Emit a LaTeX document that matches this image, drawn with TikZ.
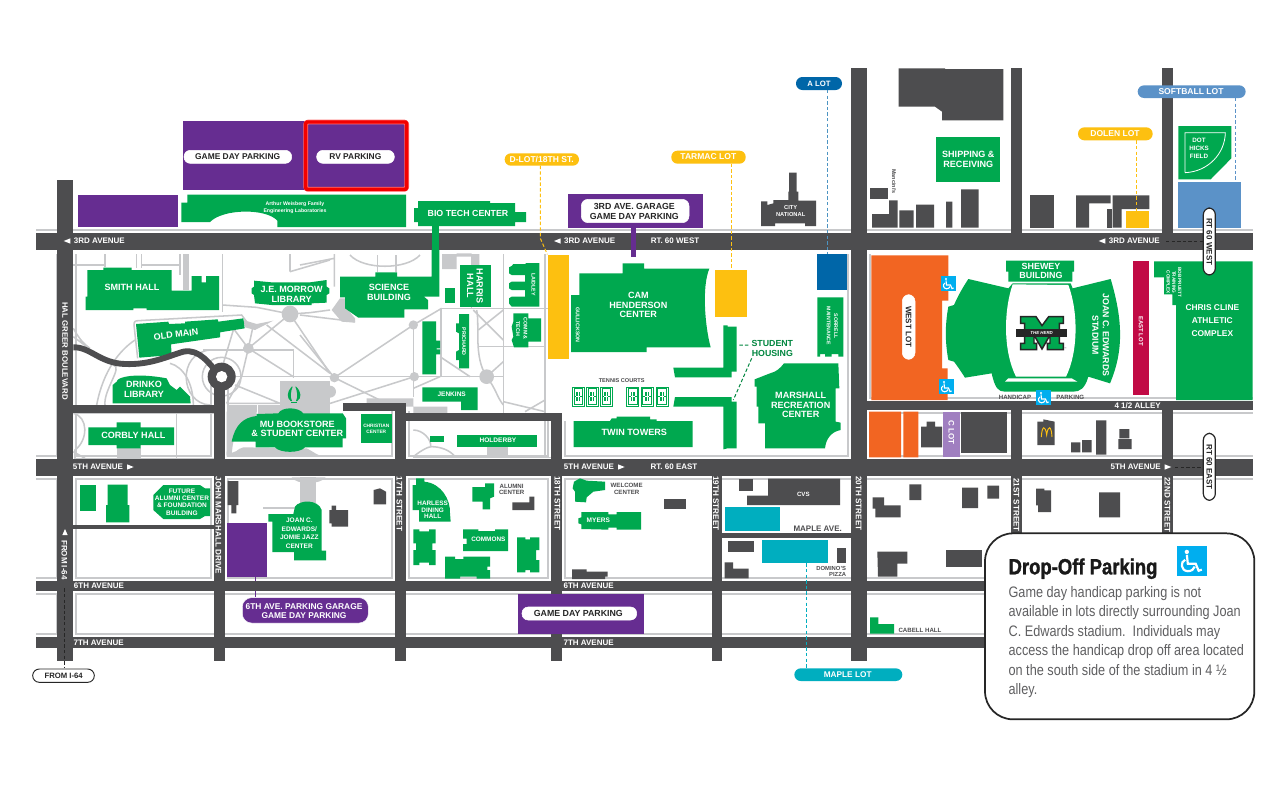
\documentclass[tikz,border=0pt]{standalone}
\usepackage{fontspec}
\setmainfont{Liberation Sans}
\newfontfamily\cond[FakeStretch=.835]{Liberation Sans}
\newfontfamily\ttl[FakeStretch=.84,BoldFeatures={FakeBold=1.3}]{Liberation Sans}
\definecolor{grn}{HTML}{00A84F}
\definecolor{drk}{HTML}{4D4D4F}
\definecolor{lgr}{HTML}{C8C9CB}
\definecolor{pur}{HTML}{662D91}
\definecolor{yel}{HTML}{FDC010}
\definecolor{org}{HTML}{F26522}
\definecolor{crm}{HTML}{C10A45}
\definecolor{lil}{HTML}{A07FC0}
\definecolor{tea}{HTML}{00AEBF}
\definecolor{blu}{HTML}{0066A8}
\definecolor{sof}{HTML}{5B92C8}
\definecolor{wch}{HTML}{00AEEF}
\tikzset{
 zm/.style 2 args={shift={(#1,#2)},x=.25pt,y=-.25pt},
 zA/.style={zm={30}{100}}, zB/.style={zm={430}{140}}, zC/.style={zm={850}{60}},
 zD/.style={zm={30}{340}}, zE/.style={zm={550}{460}}, zF/.style={zm={70}{250}},
 zG/.style={zm={300}{250}}, zH/.style={zm={940}{255}}, zI/.style={zm={975}{525}},
 zJ/.style={zm={860}{472}},
 gb/.style={fill=grn}, db/.style={fill=drk},
 pth/.style={draw=lgr,line width=1.15pt},
 pla/.style={fill=lgr},
 dsh/.style={dash pattern=on 2.6pt off 1.6pt,line width=.75pt},
 wt/.style={text=white}, dk/.style={text=drk}, bk/.style={text=black!85},
 rt/.style={rotate=-90},
 txt/.style={inner sep=0pt,align=center},
}
\newcommand\tx[5][wt]{\node[txt,#1,font=\bfseries\fontsize{#3}{#4}\selectfont] at (#2) {#5};}
\newcommand\wheelc[3]{\begin{scope}[shift={(#1,#2)},x=#3*0.05pt,y=-#3*0.05pt]
 \fill[wch] (0,0) rectangle (15,15);
 \fill[white] (5,3) circle (1.1);
 \draw[white,line width=#3*.055pt] (5,4.5) -- (5.5,9) -- (9.5,9) -- (11,12.6) -- (12.6,12);
 \draw[white,line width=#3*.055pt] (4.1,7) .. controls (1.6,8) and (1.8,12.6) .. (5.5,12.8) .. controls (7.4,12.8) and (8.6,11.8) .. (9,10.5);
\end{scope}}
\begin{document}
\begin{tikzpicture}[x=.75pt,y=-.75pt]
\useasboundingbox (0,0) rectangle (1286,793);
\fill[white] (0,0) rectangle (1286,793);
% road verge bands: horizontal top+bottom, horizontal top only, vertical
\foreach \a/\b/\c/\d in {36/233/1253/250,36/459/1253/476,36/581/985/591,867/401/1253/410}{
 \fill[lgr] (\a,{\b-4}) rectangle (\c,{\d+4});}
\fill[lgr] (36,633) rectangle (985,637);
\foreach \a/\b/\c/\d in {214/380/225/581,395/411/406/581,551/421/562/581,851/254/867/459}{
 \fill[lgr] ({\a-4},\b) rectangle ({\c+4},\d);}
\fill[lgr] (56,254) rectangle (77,636);
\foreach \a/\b/\c/\d in {36/233/1253/250,36/459/1253/476,36/581/985/591,867/401/1253/410}{
 \fill[white] (\a,{\b-1.9}) rectangle (\c,{\d+1.9});}
\fill[white] (36,635) rectangle (985,637);
\foreach \a/\b/\c/\d in {214/380/225/581,395/411/406/581,551/421/562/581,851/254/867/459}{
 \fill[white] ({\a-1.9},\b) rectangle ({\c+1.9},\d);}
\fill[white] (57,254) rectangle (75,636);
% re-open crossings the vertical bands closed
\foreach \b/\d in {250/254,476/478,591/593}{\fill[white] (36,\b) rectangle (1253,\d);}
% campus paths
\begin{scope}[zF]
\fill[pla] (339,12) rectangle (357,120);
\fill[pla] (630,392) rectangle (780,480);
\fill[pla] (565,465) rectangle (780,492);
\fill[pla] (140,595) rectangle (212,625);
\fill[pla] (520,210) -- (560,222) -- (610,212) -- (555,240) -- (525,232) -- cycle;
\fill[pla] (660,192) circle (25);
\fill[pla] (535,295) circle (16);
\draw[pth] (10,45) -- (105,45) (105,12) -- (105,50) (200,12) -- (200,55) (215,12) -- (215,55) (215,45) -- (330,45) (330,12) -- (330,75) (458,12) -- (458,185);
\draw[pth] (660,12) -- (660,65) (660,65) -- (780,30);
\draw[pth] (458,165) -- (560,172) -- (660,192) -- (720,188) -- (780,180);
\draw[pth] (535,295) -- (660,192) (550,225) -- (535,295) -- (515,380) -- (470,460);
\draw[pth] (490,235) -- (535,295) -- (670,380);
\draw[pth] (660,192) -- (780,370) (590,225) -- (780,370);
\draw[pth] (490,240) -- (460,340);
\draw[pth] (400,300) -- (670,300) -- (670,385);
\draw[pth] (490,380) -- (780,380);
\draw[pth] (470,460) -- (630,460) (495,405) -- (630,460);
\draw[pth] (203,325) -- (192,225) .. controls (192,215) and (195,212) .. (205,212) -- (515,195) -- (530,215);
\draw[pth] (195,270) .. controls (150,300) and (100,360) .. (80,465);
\draw[pth] (130,345) .. controls (160,350) and (100,420) .. (105,465);
\draw[pth] (10,260) -- (50,290) (10,235) .. controls (30,270) and (40,280) .. (60,295);
\draw[pth] (300,340) .. controls (340,350) and (370,400) .. (370,465);
\draw[pth] (10,490) .. controls (55,500) and (55,570) .. (15,600) -- (15,625) (10,605) -- (45,625);
\draw[pth] (320,490) -- (320,625);
\draw[pth] (455,380) circle (58);
\draw[pth] (420,300) .. controls (320,310) and (330,460) .. (420,465);
\draw[pth] (12,625) -- (440,625) (12,490) -- (440,490);
\end{scope}
\begin{scope}[zG]
\fill[pla] (95,180) -- (120,145) -- (140,145) -- (140,175) -- (165,205) -- (165,218) -- (125,215) -- cycle;
\fill[pla] (103,383) circle (14) (343,380) circle (14) (560,380) circle (22) (340,225) circle (14) (90,425) circle (18);
\fill[pla] (200,445) rectangle (340,470) (340,470) rectangle (442,492);
\fill[pla] (426,12) rectangle (470,57) (515,12) rectangle (538,45) (470,20) rectangle (515,10);
\fill[pla] (560,590) rectangle (625,620);
\draw[pth] (0,195) -- (165,215);
\draw[pth] (0,255) -- (103,383);
\draw[pth] (103,383) -- (340,225) -- (425,175);
\draw[pth] (340,225) -- (340,440);
\draw[pth] (423,175) -- (423,380);
\draw[pth] (420,175) -- (745,175);
\draw[pth] (515,175) -- (515,12);
\draw[pth] (610,12) -- (610,490);
\draw[pth] (610,290) -- (735,290) (535,290) -- (610,290);
\draw[pth] (535,240) -- (610,180) (520,180) -- (610,270);
\draw[pth] (530,180) .. controls (540,230) and (520,320) .. (560,380) .. controls (590,420) and (590,440) .. (610,465) (610,455) -- (735,485);
\draw[pth] (420,320) -- (510,380) (560,380) -- (610,335) (675,485) -- (735,450);
\draw[pth] (0,380) -- (610,380);
\draw[pth] (103,383) -- (300,480);
\draw[pth] (75,465) -- (343,380) (340,415) -- (420,380);
\draw[pth] (150,15) .. controls (190,60) and (320,60) .. (360,15);
\draw[pth] (232,15) -- (232,65) (288,15) -- (288,65);
\draw[pth] (103,12) -- (103,110) (0,45) -- (103,25);
\draw[pth] (340,540) .. controls (370,540) and (395,570) .. (392,590) (340,620) .. controls (365,600) and (385,590) .. (395,590) .. controls (420,590) and (450,600) .. (465,620);
\draw[pth] (340,512) -- (760,512) (340,622) -- (760,622);
\draw[pth] (300,480) -- (300,625);
\draw[pth] (735,12) -- (735,625);
\end{scope}
\begin{scope}[zD]
\fill[pla] (590,195) rectangle (680,215);
\fill[pla] (590,215) -- (680,215) -- (680,232) .. controls (625,240) and (610,280) .. (605,345) -- (590,345) -- cycle;
\fill[pla] (590,350) -- (880,350) .. controls (860,345) and (850,335) .. (830,325) -- (640,322) .. controls (620,325) and (620,345) .. (590,335) -- cycle;
\fill[pla] (810,412) rectangle (858,490);
\fill[pla] (785,412) .. controls (800,435) and (870,435) .. (887,412) -- cycle;
\draw[pth] (700,504) -- (822,504);
\end{scope}
% lots
\begin{scope}[zA]
\fill[pur] (458,62) rectangle (1130,270);
\fill[pur] (145,284) rectangle (443,381);
\fill[gb] (454,308) -- (472,308) -- (472,284) -- (1128,284) -- (1128,381) -- (742,381) -- (742,362) .. controls (710,325) and (580,325) .. (540,366) -- (454,366) -- cycle;
\filldraw[draw=white,fill=white,rounded corners=4.7pt] (462,151) rectangle (785,190);
\filldraw[draw=white,fill=white,rounded corners=4.7pt] (860,151) rectangle (1093,190);
\draw[red!55,line width=3.6pt,rounded corners=2pt] (827,66) rectangle (1130,268);
\draw[red!95!black,line width=2.6pt,rounded corners=1pt] (827,66) rectangle (1130,268);
\tx[bk]{623,170}{6.3}{8}{GAME DAY PARKING}
\tx[bk]{976,170}{6.3}{8}{RV PARKING}
\tx{795,323}{3.9}{5}{Arthur Weisberg Family\\Engineering Laboratories}
\end{scope}
% buildings west
\begin{scope}[zF]
\fill[gb] (52,60) -- (100,60) -- (100,53) -- (185,53) -- (185,60) -- (305,60) -- (305,122) -- (365,122) -- (365,78) -- (395,78) -- (395,97) -- (408,97) -- (408,78) -- (447,78) -- (447,180) -- (230,180) -- (230,175) -- (190,175) -- (190,180) -- (47,180) -- (47,140) -- (52,140) -- cycle;
\tx{186,113}{6.8}{8}{SMITH HALL}
\fill[gb] (198,222) -- (295,215) -- (297,222) -- (345,220) -- (345,215) -- (443,208) -- (445,215) -- (520,205) -- (524,235) -- (450,247) -- (450,262) -- (303,283) -- (305,315) -- (208,323) -- cycle;
\node[txt,wt,rotate=7,font=\bfseries\fontsize{6.8}{8}\selectfont] at (318,254) {OLD MAIN};
\fill[gb] (128,460) -- (128,405) -- (140,395) .. controls (140,380) and (200,368) .. (290,385) -- (300,405) -- (320,420) -- (330,410) -- (360,440) -- (362,460) -- cycle;
\tx{222,418}{6.8}{7.1}{DRINKO\\LIBRARY}
\fill[gb] (55,532) -- (140,532) -- (140,517) -- (212,517) -- (212,532) -- (312,532) -- (312,585) -- (212,585) -- (212,595) -- (140,595) -- (140,585) -- (55,585) -- cycle;
\tx{190,556}{6.8}{8}{CORBLY HALL}
\fill[gb] (552,92) -- (605,97) -- (720,97) -- (770,90) -- (770,110) -- (778,115) -- (778,130) -- (770,135) -- (770,158) -- (725,160) -- (725,165) -- (605,165) -- (555,160) -- (552,135) -- (545,130) -- (545,115) -- (552,110) -- cycle;
\tx{665,133}{6.8}{7.2}{J.E. MORROW\\LIBRARY}
\end{scope}
\begin{scope}[zD]
\fill[gb] (605,305) .. controls (615,255) and (640,232) .. (680,228) -- (680,222) -- (745,220) .. controls (755,200) and (805,200) .. (820,220) -- (938,220) -- (948,235) -- (948,295) -- (938,295) -- (938,322) -- (825,322) .. controls (810,340) and (750,340) .. (735,322) -- (677,322) -- (677,305) -- cycle;
\tx{802,267}{6.8}{7.2}{MU BOOKSTORE\\\& STUDENT CENTER}
\fill[gb] (785,140) .. controls (770,155) and (770,175) .. (782,183) -- (786,183) .. controls (780,170) and (782,155) .. (788,140) -- cycle;
\fill[gb] (798,140) .. controls (815,155) and (815,175) .. (802,183) -- (798,183) .. controls (804,170) and (802,155) .. (796,140) -- cycle;
\fill[gb] (782,185) rectangle (802,189);
\fill[gb] (149,434) rectangle (197,514);
\fill[gb] (233,434) -- (293,434) -- (293,495) -- (298,495) -- (298,547) -- (228,547) -- (228,495) -- (233,495) -- cycle;
\fill[gb] (400,435) -- (510,435) -- (525,445) -- (540,445) -- (540,528) -- (525,528) -- (510,537) -- (400,537) -- (370,510) -- (370,465) -- cycle;
\tx{456,486}{4.9}{5.4}{FUTURE\\ALUMNI CENTER\\\& FOUNDATION\\BUILDING}
\fill[pur] (591,548) rectangle (711,712);
\draw[pur,line width=.5pt] (676,712) -- (676,770);
\fill[gb] (715,522) -- (790,522) -- (795,500) .. controls (810,478) and (865,478) .. (875,510) -- (875,632) -- (888,632) -- (888,661) -- (792,661) -- (792,636) -- (727,636) -- (727,545) -- (715,545) -- cycle;
\tx{808,580}{4.9}{6.3}{JOAN C.\\EDWARDS/\\JOMIE JAZZ\\CENTER}
\fill[db] (593,423) -- (625,423) -- (625,495) -- (619,495) -- (619,520) -- (604,520) -- (604,495) -- (593,495) -- cycle;
\fill[db] (898,510) -- (905,510) -- (905,497) -- (918,497) -- (918,510) -- (954,510) -- (954,560) -- (905,560) -- (905,550) -- (898,550) -- cycle;
\fill[db] (1031,450) -- (1050,445) -- (1068,455) -- (1068,493) -- (1031,493) -- cycle;
\fill[gb] (1158,415) -- (1183,415) -- (1183,425) .. controls (1235,430) and (1262,480) .. (1260,520) -- (1262,545) -- (1167,545) -- (1167,510) -- (1148,510) -- (1148,435) -- (1158,435) -- cycle;
\tx{1208,510}{4.8}{4.9}{HARLESS\\DINING\\HALL}
\fill[gb] (1327,441) -- (1365,441) -- (1365,430) -- (1392,430) -- (1392,470) -- (1380,475) -- (1380,508) -- (1358,508) -- (1358,485) -- (1327,485) -- cycle;
\tx[dk]{1445,448}{4.6}{5}{ALUMNI\\CENTER}
\fill[db] (1447,487) -- (1498,487) -- (1498,470) -- (1513,470) -- (1513,510) -- (1447,510) -- cycle;
\fill[gb] (1150,568) -- (1168,568) -- (1168,574) -- (1197,574) -- (1197,568) -- (1217,568) -- (1217,610) -- (1207,610) -- (1207,630) -- (1217,630) -- (1217,675) -- (1197,675) -- (1197,668) -- (1168,668) -- (1168,675) -- (1150,675) -- (1150,630) -- (1158,630) -- (1158,610) -- (1150,610) -- cycle;
\fill[gb] (1245,650) -- (1275,650) -- (1275,657) -- (1300,657) -- (1300,650) -- (1380,650) -- (1380,680) -- (1372,680) -- (1372,690) -- (1380,690) -- (1380,716) -- (1340,716) -- (1340,710) -- (1290,710) -- (1290,716) -- (1245,716) -- cycle;
\fill[gb] (1299,568) -- (1345,568) -- (1345,573) -- (1395,573) -- (1395,568) -- (1434,568) -- (1434,633) -- (1299,633) -- (1299,612) -- (1310,612) -- (1310,596) -- (1299,596) -- cycle;
\tx{1375,597}{4.8}{6}{COMMONS}
\fill[gb] (1461,592) -- (1486,592) -- (1486,598) -- (1500,598) -- (1500,592) -- (1528,592) -- (1528,630) -- (1518,630) -- (1518,660) -- (1528,660) -- (1528,697) -- (1500,697) -- (1500,690) -- (1486,690) -- (1486,697) -- (1461,697) -- cycle;
\end{scope}
\begin{scope}[zG]
\fill[gb] (120,80) -- (226,80) -- (226,67) -- (291,67) -- (291,80) -- (395,80) -- (395,0) -- (418,0) -- (418,140) -- (372,140) -- (384,150) -- (384,178) -- (313,178) -- (313,203) -- (175,203) -- (135,175) -- (135,142) -- (120,142) -- cycle;
\tx{267,128}{6.8}{7.2}{SCIENCE\\BUILDING}
\fill[gb] (436,115) rectangle (466,158);
\fill[gb] (481,46) rectangle (573,172);
\tx[wt,rt]{525,108}{6.8}{7}{HARRIS\\HALL}
\fill[gb] (367,214) -- (408,214) -- (408,272) -- (420,272) -- (420,295) -- (410,295) -- (410,298) -- (420,298) -- (420,313) -- (408,313) -- (408,373) -- (367,373) -- cycle;
\fill[gb] (367,412) -- (533,412) -- (533,480) -- (483,480) -- (483,455) -- (367,455) -- cycle;
\tx{455,432}{4.9}{6}{JENKINS}
\fill[gb] (182,492) rectangle (275,580);
\tx{229,537}{3.6}{5}{CHRISTIAN\\CENTER}
\fill[gb] (471,555) rectangle (711,590);
\tx{594,571}{4.9}{6}{HOLDERBY}
\fill[gb] (390,558) rectangle (433,576);
\end{scope}
\begin{scope}[zB]
\fill[gb] (250,372) -- (287,372) -- (287,369) -- (328,369) -- (328,500) -- (245,500) -- (237,490) -- (237,475) -- (245,470) -- (285,470) -- (285,450) -- (245,450) -- (237,445) -- (237,430) -- (245,425) -- (285,425) -- (285,405) -- (245,405) -- (237,400) -- (237,382) -- (245,378) -- cycle;
\tx[wt,rt]{310,434}{4}{5}{LAIDLEY}
\fill[gb] (250,520) -- (295,520) -- (295,535) -- (333,535) -- (333,605) -- (295,605) -- (295,622) -- (252,622) -- (245,600) -- (250,590) -- (245,560) -- (250,545) -- cycle;
\tx[wt,rt]{275,566}{4}{5.5}{COMM \&\\TECH}
\fill[gb] (87,522) -- (117,522) -- (117,685) -- (87,685) -- (87,660) -- (78,660) -- (78,635) -- (87,630) -- (87,580) -- (78,575) -- (78,550) -- (87,550) -- cycle;
\tx[wt,rt]{102,605}{4}{5}{PRICHARD}
\fill[gb] (448,400) -- (578,400) -- (578,370) -- (642,370) -- (642,386) -- (838,386) .. controls (815,440) and (825,560) .. (842,622) -- (650,622) -- (650,636) -- (423,636) -- (423,465) -- (448,465) -- cycle;
\tx{625,495}{6.8}{7.2}{CAM\\HENDERSON\\CENTER}
\tx[wt,rt]{443,555}{4}{5}{GULLICKSON}
\fill[yel] (355,345) rectangle (417,657);
\fill[yel] (856,390) rectangle (950,531);
\fill[blu] (1162,343) rectangle (1250,451);
\fill[gb] (1162,472) -- (1240,472) -- (1240,650) -- (1225,650) -- (1225,642) -- (1205,642) -- (1205,650) -- (1185,650) -- (1185,642) -- (1170,642) -- (1170,650) -- (1162,650) -- cycle;
\tx[wt,rt]{1207,558}{3.9}{5.5}{SORRELL\\MAINTENANCE}
\fill[gb] (1062,670) -- (1225,670) -- (1228,745) -- (1217,745) -- (1217,845) -- (1232,848) -- (1232,870) .. controls (1205,875) and (1188,895) .. (1185,925) -- (1005,925) -- (1005,850) -- (985,850) -- (985,800) -- (980,800) -- (980,740) -- (974,740) -- (974,718) -- (1020,700) .. controls (1040,695) and (1050,685) .. (1062,670) -- cycle;
\tx{1112,795}{6.8}{7.2}{MARSHALL\\RECREATION\\CENTER}
\fill[gb] (880,556) -- (893,556) -- (893,560) -- (920,560) -- (920,695) -- (905,695) -- (905,712) -- (735,712) -- (730,683) -- (880,683) -- cycle;
\fill[gb] (735,771) -- (905,771) -- (905,785) -- (920,785) -- (920,925) -- (893,925) -- (880,928) -- (880,800) -- (730,800) -- cycle;
\tx[text=grn!80!black]{1027,625}{6.6}{7}{STUDENT\\HOUSING}
\draw[grn!80!black,dsh] (928,615) -- (955,615) (965,655) -- (910,780);
\tx[dk]{575,722}{4.2}{5}{TENNIS COURTS}
\foreach \q in {427,469,511,590,633,678}{
 \draw[grn,line width=.6pt] (\q,741) rectangle ({\q+36},798);
 \draw[grn,line width=.6pt] ({\q+5},746) rectangle ({\q+31},793);
 \fill[grn] ({\q+12},757) rectangle ({\q+24},782);
 \draw[grn,line width=.6pt] ({\q+5},769.5) -- ({\q+31},769.5);
 \draw[white,line width=.6pt] ({\q+18},757) -- ({\q+18},782) ({\q+12},769.5) -- ({\q+24},769.5);
}
\fill[gb] (431,843) -- (540,843) -- (545,835) -- (560,835) -- (560,830) -- (660,830) -- (660,838) -- (680,838) -- (680,843) -- (788,843) -- (788,921) -- (431,921) -- cycle;
\tx{613,877}{6.8}{8}{TWIN TOWERS}
\fill[db] (993,184) -- (1012,184) -- (1012,195) -- (1030,190) -- (1030,180) -- (1075,180) -- (1075,155) -- (1077,155) -- (1077,98) -- (1100,98) -- (1100,155) -- (1105,155) -- (1105,182) -- (1158,182) -- (1158,258) -- (1125,258) -- (1125,250) -- (1035,250) -- (1035,258) -- (993,258) -- cycle;
\tx{1082,213}{4.3}{5}{CITY\\NATIONAL}
\end{scope}
% lower buildings
\begin{scope}[zE]
\fill[gb] (75,125) -- (75,95) -- (68,85) -- (72,65) -- (90,55) -- (110,62) -- (165,65) -- (165,90) -- (130,95) -- (110,112) -- (108,127) -- cycle;
\tx[dk]{230,87}{4.6}{5}{WELCOME\\CENTER}
\fill[db] (343,118) rectangle (409,148);
\fill[gb] (94,156) -- (175,156) -- (175,163) -- (200,163) -- (200,156) -- (273,156) -- (273,209) -- (200,209) -- (200,203) -- (175,203) -- (175,209) -- (94,207) -- (94,193) -- (85,190) -- (85,175) -- (94,172) -- cycle;
\tx{145,182}{4.9}{6}{MYERS}
\fill[db] (66,328) -- (110,328) -- (110,335) -- (173,335) -- (173,350) -- (165,350) -- (165,357) -- (66,357) -- cycle;
\fill[db] (566,56) rectangle (610,94);
\fill[db] (654,56) -- (870,56) -- (870,135) -- (591,135) -- (591,107) -- (654,107) -- cycle;
\tx{760,103}{4.6}{6}{CVS}
\fill[tea] (524,140) rectangle (689,214);
\tx[dk]{803,205}{6}{7}{MAPLE AVE.}
\fill[db] (533,244) rectangle (612,275);
\fill[tea] (635,241) rectangle (834,310);
\fill[db] (860,264) rectangle (889,308);
\fill[db] (524,307) -- (549,307) -- (549,326) -- (596,326) -- (596,355) -- (524,355) -- cycle;
\node[txt,dk,align=right,anchor=east,font=\bfseries\fontsize{4.4}{4.5}\selectfont] at (889,335) {DOMINO'S\\PIZZA};
\end{scope}
\begin{scope}[zJ]
\fill[db] (148,37) rectangle (184,84) (306,47) rectangle (354,108) (382,41) rectangle (417,80) (717,61) rectangle (780,136);
\fill[db] (38,76) -- (72,76) -- (72,100) -- (122,100) -- (122,136) -- (46,136) -- (46,110) -- (38,110) -- cycle;
\fill[db] (528,50) -- (553,50) -- (553,55) -- (573,55) -- (573,120) -- (534,120) -- (534,100) -- (528,100) -- cycle;
\fill[db] (52,239) -- (142,239) -- (142,275) -- (112,275) -- (112,314) -- (54,314) -- cycle;
\fill[db] (258,233) rectangle (365,285);
\fill[gb] (30,436) -- (55,436) -- (55,456) -- (102,456) -- (102,485) -- (30,485) -- cycle;
\tx[dk]{180,475}{4.6}{6}{CABELL HALL}
\end{scope}
% roads
\foreach \a/\b/\c/\d in {36/233/1253/250,36/459/1253/476,36/581/985/591,36/637/985/648,867/401/1253/410,
 57/180/73/661,214/380/225/661,395/403/406/661,551/413/562/661,712/459/722/661,851/68/867/661,1011/68/1022/233,1162/68/1173/233,1011/410/1022/540,1162/410/1173/540,
 343/403/406/411,406/413/562/421,73/405/214/413,73/525/214/529,722/533/851/538}{
 \fill[drk] (\a,\b) rectangle (\c,\d);}
% north-east quarter and stadium
\begin{scope}[zC]
\fill[db] (146,25) -- (285,25) -- (285,27) -- (460,27) -- (460,181) -- (276,181) -- (276,155) -- (255,140) -- (146,140) -- cycle;
\fill[gb] (257,230) rectangle (449,365);
\tx{355,298}{6.8}{7.2}{SHIPPING \&\\RECEIVING}
\node[txt,dk,rt,font=\fontsize{4.1}{5}\selectfont] at (132,365) {\bfseries Mancini's};
\fill[db] (61,383) rectangle (115,416);
\fill[db] (66,462) -- (117,462) -- (117,421) -- (143,421) -- (143,503) -- (66,503) -- cycle;
\fill[db] (148,451) rectangle (191,503) (198,434) rectangle (252,503) (288,425) rectangle (307,503) (333,388) rectangle (386,503);
\fill[db] (541,406) rectangle (613,503);
\fill[db] (678,406) -- (782,406) -- (782,430) -- (717,430) -- (717,503) -- (678,503) -- cycle;
\fill[db] (770,447) rectangle (786,503);
\fill[db] (788,406) -- (898,406) -- (898,447) -- (815,447) -- (815,503) -- (788,503) -- cycle;
\fill[yel] (829,454) rectangle (898,503);
\fill[sof] (985,367) rectangle (1172,503);
\fill[gb] (985,198) -- (1144,198) -- (1144,295) -- (1082,358) -- (985,358) -- cycle;
\draw[white,line width=.6pt] (1005,338) -- (1005,218) -- (1126,218) .. controls (1125,280) and (1075,335) .. (1005,338);
\tx{1047,265}{4.7}{5.8}{DOT\\HICKS\\FIELD}
\fill[org] (64,586) -- (295,586) -- (295,722) -- (276,722) -- (276,925) -- (293,925) -- (293,1020) -- (64,1020) -- cycle;
\fill[crm] (848,604) rectangle (898,1004);
\tx[wt,rt]{873,813}{4.5}{5.2}{EAST LOT}
\fill[gb] (912,604) -- (1208,604) -- (1208,1020) -- (978,1020) -- (978,735) -- (967,735) -- (967,703) -- (942,703) -- (942,652) -- (912,652) -- cycle;
\tx[wt,rt]{972,667}{3.5}{4.3}{BOB PRUETT\\TRAINING\\COMPLEX}
\tx{1087,782}{6.3}{9.75}{CHRIS CLINE\\ATHLETIC\\COMPLEX}
\fill[org] (57,1055) rectangle (153,1192) (160,1055) rectangle (205,1192);
\fill[db] (213,1100) -- (230,1100) -- (230,1085) -- (255,1085) -- (255,1100) -- (276,1100) -- (276,1162) -- (213,1162) -- cycle;
\fill[lil] (279,1055) rectangle (329,1192);
\tx[wt,rt]{304,1118}{6}{7}{C LOT}
\fill[db] (334,1056) rectangle (471,1178);
\fill[db] (562,1085) -- (580,1085) -- (580,1078) -- (614,1085) -- (614,1155) -- (562,1155) -- cycle;
\draw[yel,line width=.7pt] (574,1131) .. controls (576,1095) and (586,1095) .. (590,1125) .. controls (594,1095) and (604,1095) .. (606,1131);
\fill[db] (663,1147) rectangle (691,1177) (696,1140) rectangle (725,1177) (738,1081) rectangle (769,1184) (808,1107) rectangle (838,1135) (805,1137) rectangle (845,1167);
\end{scope}
\begin{scope}[zH]
\fill[gb] (85,72) -- (205,100) -- (218,85) -- (392,85) -- (398,100) -- (512,72) .. controls (550,200) and (550,290) .. (510,385) -- (445,365) .. controls (435,400) and (420,410) .. (400,410) -- (195,410) .. controls (175,410) and (165,400) .. (155,355) -- (75,368) .. controls (60,345) and (50,330) .. (42,320) -- (25,315) .. controls (15,260) and (15,210) .. (25,155) -- (42,150) .. controls (55,120) and (70,95) .. (85,72) -- cycle;
\fill[white] (218,88) -- (385,90) .. controls (415,170) and (415,290) .. (378,365) -- (228,365) .. controls (190,290) and (190,170) .. (218,88) -- cycle;
\fill[white] (195,380) -- (205,370) -- (395,370) -- (412,380) -- cycle;
\fill[gb] (198,17) -- (402,17) -- (402,50) -- (397,50) -- (397,80) -- (205,80) -- (205,50) -- (198,50) -- cycle;
\tx{303,48}{6.7}{6.3}{SHEWEY\\BUILDING}
\tx[wt,rt]{482,240}{6.6}{8}{JOAN C. EDWARDS\\STADIUM}
\filldraw[fill=grn,draw=black!85,line width=1.1pt,line join=miter] (242,185) -- (288,185) -- (306,212) -- (326,185) -- (370,185) -- (370,205) -- (358,205) -- (358,265) -- (370,265) -- (370,284) -- (322,284) -- (322,265) -- (330,265) -- (330,240) -- (306,282) -- (282,240) -- (282,265) -- (290,265) -- (290,284) -- (242,284) -- (242,265) -- (254,265) -- (254,205) -- (242,205) -- cycle;
\fill[black!85] (228,222) rectangle (382,246);
\node[txt,wt,font=\itshape\bfseries\fontsize{3.3}{4}\selectfont] at (305,234) {THE HERD};
\node[txt,dk,font=\fontsize{1.8}{2}\selectfont] at (376,282) {™};
\tx[dk]{225,428}{4.6}{5}{HANDICAP}
\tx[dk]{391,428}{4.6}{5}{PARKING}
\end{scope}
% curved road and circle
\begin{scope}[zF]
\draw[drk,line width=4.4pt,line join=round] (10,292) .. controls (60,290) and (90,340) .. (165,342) .. controls (240,345) and (290,320) .. (340,305) .. controls (390,295) and (420,345) .. (440,365);
\fill[drk] (455,380) circle (42);
\fill[white] (455,380) circle (17);
\end{scope}
% wheelchairs
\wheelc{941}{276}{15}
\wheelc{939}{379}{15}
\wheelc{1036}{390}{15}
% stems and connectors
\fill[gb] (414,208) -- (418,208) -- (418,201) -- (490,201) -- (490,203) -- (515,203) -- (515,212) -- (526,212) -- (526,222) -- (515,222) -- (515,226) -- (418,226) -- (418,222) -- (414,222) -- cycle;
\tx{468,213.5}{6.6}{8}{BIO TECH CENTER}
\fill[gb] (432,226) rectangle (439,272);
\begin{scope}[zB]
\filldraw[fill=pur,draw=pur] (414,164) rectangle (818,261);
\fill[pur] (603,261) rectangle (617,350);
\filldraw[fill=white,draw=white,rounded corners=5pt] (454,178) rectangle (777,248);
\tx[bk]{613,214}{6.6}{7.2}{3RD AVE. GARAGE\\GAME DAY PARKING}
\fill[yel,rounded corners=4.6pt] (224,40) rectangle (447,77);
\tx{335,58}{6.4}{8}{D-LOT/18TH ST.}
\fill[yel,rounded corners=4.6pt] (724,32) rectangle (947,71);
\tx{835,51}{6.4}{8}{TARMAC LOT}
\draw[yel,dsh] (331,77) -- (331,295) -- (352,343);
\draw[yel,dsh] (905,71) -- (905,390);
\end{scope}
% A lot pill
\fill[blu,rounded corners=4.8pt] (796,77) rectangle (842,90);
\tx{819,83.5}{5.8}{7}{A LOT}
\draw[blu!70!white,dsh] (827,90) -- (827,254);
\begin{scope}[zC]
\fill[yel,rounded corners=4.8pt] (684,202) rectangle (908,241);
\tx{795,221}{6.4}{8}{DOLEN LOT}
\draw[yel,dsh] (860,241) -- (860,454);
\fill[sof,rounded corners=4.8pt] (863,76) rectangle (1187,114);
\tx{1023,95}{6.4}{8}{SOFTBALL LOT}
\draw[sof,dsh] (1157,114) -- (1157,367);
\draw[black!85,dsh,line width=.6pt] (948,545) -- (1058,545);
\draw[black!85,dsh,line width=.6pt] (975,1222) -- (1058,1222);
\filldraw[fill=white,draw=black!85,line width=.9pt,rounded corners=5pt] (1060,444) rectangle (1096,645);
\tx[bk,rt]{1078,545}{6}{7}{RT 60 WEST}
\filldraw[fill=white,draw=black!85,line width=.9pt,rounded corners=5pt] (1060,1120) rectangle (1096,1321);
\tx[bk,rt]{1078,1221}{6}{7}{RT 60 EAST}
\filldraw[fill=white,draw=white,rounded corners=5pt] (157,704) rectangle (195,898);
\tx[bk,rt]{176,800}{6}{7}{WEST LOT}
\tx{863,1038}{6}{7}{4 1/2 ALLEY}
\tx{853,543}{6}{7}{3RD AVENUE}
\fill[white] (746,543) -- (766,535) -- (766,551) -- cycle;
\tx{857,1221}{6}{7}{5TH AVENUE}
\fill[white] (964,1221) -- (944,1213) -- (944,1229) -- cycle;
\end{scope}
% road labels
\begin{scope}[zA]
\tx{208,423}{6}{7}{3RD AVENUE}
\fill[white] (101,423) -- (121,415) -- (121,431) -- cycle;
\end{scope}
\begin{scope}[zB]
\tx{479,303}{6}{7}{3RD AVENUE}
\fill[white] (372,303) -- (392,295) -- (392,311) -- cycle;
\tx{735,303}{6}{7}{RT. 60 WEST}
\tx{477,981}{6}{7}{5TH AVENUE}
\fill[white] (584,981) -- (564,973) -- (564,989) -- cycle;
\tx{732,981}{6}{7}{RT. 60 EAST}
\end{scope}
\begin{scope}[zD]
\tx{204,381}{6}{7}{5TH AVENUE}
\fill[white] (311,381) -- (291,373) -- (291,389) -- cycle;
\tx{207,738}{6}{7}{6TH AVENUE}
\tx{206,908}{6}{7}{7TH AVENUE}
\fill[white] (105,567) -- (97,585) -- (113,585) -- cycle;
\tx[wt,rt]{103,660}{6}{7}{FROM I-64}
\draw[black!85,dsh,line width=.6pt] (103,745) -- (103,985);
\filldraw[fill=white,draw=black!85,line width=.7pt,rounded corners=5pt] (8,987) rectangle (193,1027);
\tx[bk]{101,1007}{5.8}{7}{FROM I-64}
\tx[wt,rt]{565,556}{6.1}{7}{JOHN MARSHALL DRIVE}
\tx[wt,rt]{1108,492}{6.1}{7}{17TH STREET}
\filldraw[fill=pur,draw=white,line width=.3pt,rounded corners=7pt] (637,773) rectangle (1015,849);
\tx{822,813}{6.3}{7.2}{6TH AVE. PARKING GARAGE\\GAME DAY PARKING}
\end{scope}
\tx[wt,rt]{65,351}{5.9}{7}{HAL GREER BOULEVARD}
\begin{scope}[zE]
\tx[wt,rt]{22,130}{6.1}{7}{18TH STREET}
\tx[wt,rt]{498,130}{6.1}{7}{19TH STREET}
\tx[wt,rt]{926,130}{6.1}{7}{20TH STREET}
\tx{116,378}{6}{7}{6TH AVENUE}
\tx{116,548}{6}{7}{7TH AVENUE}
\fill[pur] (-95,402) rectangle (282,522);
\filldraw[fill=white,draw=white,rounded corners=4.6pt] (-84,441) rectangle (260,480);
\tx[bk]{85,460}{6.6}{8}{GAME DAY PARKING}
\draw[tea,dsh] (770,310) -- (770,625);
\fill[tea,rounded corners=4.8pt] (733,625) rectangle (1057,663);
\tx{893,644}{6.2}{8}{MAPLE LOT}
\end{scope}
\tx[wt,rt]{1016.5,505}{6.1}{7}{21ST STREET}
\tx[wt,rt]{1167.5,505}{6.1}{7}{22ND STREET}
% info box
\begin{scope}[zI]
\filldraw[fill=white,draw=black!85,line width=1.3pt,rounded corners=21pt] (30,25) rectangle (838,583);
\node[inner sep=0pt,anchor=base west,text=black!90,font=\ttl\bfseries\fontsize{16.5}{18}\selectfont] at (100,148) {Drop-Off Parking};
\node[inner sep=0pt,anchor=north west,align=left,text=drk!90,font=\cond\fontsize{11.4}{14.6}\selectfont] at (100,183) {Game day handicap parking is not\\available in lots directly surrounding Joan\\C. Edwards stadium.\ \ Individuals may\\access the handicap drop off area located\\on the south side of the stadium in 4 ½\\alley.};
\end{scope}
\wheelc{1177}{546}{29.5}
\end{tikzpicture}
\end{document}
